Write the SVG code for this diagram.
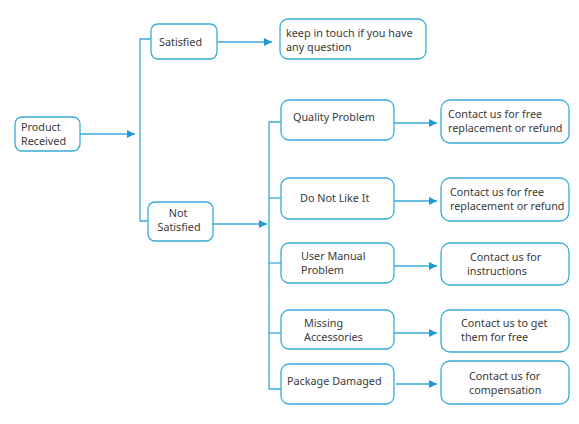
<svg xmlns="http://www.w3.org/2000/svg" width="579" height="424" viewBox="0 0 579 424">
<style>
.n{fill:#fff;stroke:#3aaad8;stroke-width:1.3}
.t{font-family:"Noto Sans","Open Sans",sans-serif;font-size:10.8px;fill:#3a3a3a}
.c{fill:none;stroke:#3aaad8;stroke-width:1.3}
</style>
<defs>
<marker id="a" viewBox="0 0 10 10" refX="10" refY="5" markerWidth="8" markerHeight="8" markerUnits="userSpaceOnUse" orient="auto">
<path d="M0,0 L10,5 L0,10 Z" fill="#1e9bd7"/>
</marker>
</defs>
<rect width="579" height="424" fill="#fff"/>
<g id="connectors">
<line class="c" x1="80" y1="134" x2="135" y2="134" marker-end="url(#a)"/>
<polyline class="c" points="151,39 140,39 140,221 148,221"/>
<line class="c" x1="217" y1="42" x2="272" y2="42" marker-end="url(#a)"/>
<line class="c" x1="213" y1="224" x2="267" y2="224" marker-end="url(#a)"/>
<polyline class="c" points="281,122 269,122 269,389 281,389"/>
<line class="c" x1="269" y1="198" x2="281" y2="198"/>
<line class="c" x1="269" y1="263" x2="281" y2="263"/>
<line class="c" x1="269" y1="333" x2="281" y2="333"/>
<line class="c" x1="394" y1="123" x2="437" y2="123" marker-end="url(#a)"/>
<line class="c" x1="394" y1="201" x2="437" y2="201" marker-end="url(#a)"/>
<line class="c" x1="394" y1="266" x2="437" y2="266" marker-end="url(#a)"/>
<line class="c" x1="394" y1="333" x2="437" y2="333" marker-end="url(#a)"/>
<line class="c" x1="396" y1="384" x2="437" y2="384" marker-end="url(#a)"/>
</g>
<g id="product-received"><rect class="n" x="15" y="117" width="65" height="34" rx="7"/><text class="t" x="21" y="131">Product</text><text class="t" x="21" y="145">Received</text></g>
<g id="satisfied"><rect class="n" x="151" y="24" width="66" height="35" rx="7"/><text class="t" x="159" y="46">Satisfied</text></g>
<g id="keep-in-touch"><rect class="n" x="280" y="19" width="146" height="40" rx="8"/><text class="t" x="286" y="37">keep in touch if you have</text><text class="t" x="286" y="51">any question</text></g>
<g id="not-satisfied"><rect class="n" x="148" y="202" width="65" height="39" rx="7"/><text class="t" x="178" y="217" text-anchor="middle">Not</text><text class="t" x="179" y="231" text-anchor="middle">Satisfied</text></g>
<g id="quality-problem"><rect class="n" x="281" y="100" width="113" height="40" rx="8"/><text class="t" x="293" y="121">Quality Problem</text></g>
<g id="do-not-like"><rect class="n" x="281" y="178" width="113" height="41" rx="8"/><text class="t" x="300" y="202">Do Not Like It</text></g>
<g id="user-manual"><rect class="n" x="281" y="243" width="113" height="40" rx="8"/><text class="t" x="301" y="260">User Manual</text><text class="t" x="301" y="274">Problem</text></g>
<g id="missing-accessories"><rect class="n" x="281" y="310" width="113" height="39" rx="8"/><text class="t" x="304" y="327">Missing</text><text class="t" x="304" y="341">Accessories</text></g>
<g id="package-damaged"><rect class="n" x="281" y="364" width="113" height="40" rx="8"/><text class="t" x="287" y="385">Package Damaged</text></g>
<g id="r-quality"><rect class="n" x="441" y="100" width="128" height="43" rx="9"/><text class="t" x="448" y="118">Contact us for free</text><text class="t" x="448" y="132">replacement or refund</text></g>
<g id="r-dislike"><rect class="n" x="441" y="178" width="128" height="43" rx="9"/><text class="t" x="450" y="196">Contact us for free</text><text class="t" x="450" y="210">replacement or refund</text></g>
<g id="r-manual"><rect class="n" x="441" y="243" width="128" height="42" rx="9"/><text class="t" x="470" y="261">Contact us for</text><text class="t" x="467" y="275">instructions</text></g>
<g id="r-missing"><rect class="n" x="441" y="310" width="128" height="42" rx="9"/><text class="t" x="461" y="327">Contact us to get</text><text class="t" x="461" y="341">them for free</text></g>
<g id="r-package"><rect class="n" x="441" y="361" width="128" height="43" rx="9"/><text class="t" x="469" y="380">Contact us for</text><text class="t" x="469" y="394">compensation</text></g>
</svg>
